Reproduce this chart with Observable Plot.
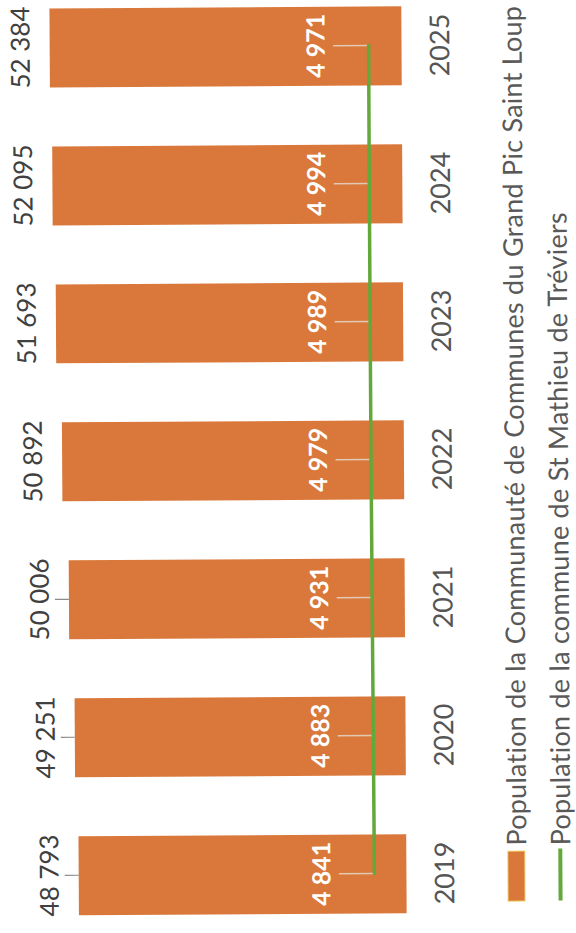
<!DOCTYPE html>
<html><head><meta charset="utf-8">
<script src="https://cdn.jsdelivr.net/npm/d3@7"></script>
<script src="https://cdn.jsdelivr.net/npm/@observablehq/plot@0.6"></script>
<style>
html,body{margin:0;padding:0;background:#fff;overflow:hidden;width:576px;height:933px}
#wrap{position:absolute;left:0;top:0;width:576px;height:933px;transform-origin:288px 466px;transform:rotate(-0.34deg)}
#rot{position:absolute;left:0;top:933px;width:933px;height:576px;transform-origin:0 0;transform:rotate(-90deg);font-family:Lato,"Open Sans",sans-serif;background:#fff}
#chart{position:absolute;left:0;top:0}
.leg{position:absolute;left:31px;height:27px;line-height:27px;display:flex;align-items:center;color:#595959;font-size:27px;letter-spacing:0.25px;white-space:nowrap}
.sw{width:49px;height:16px;background:#D9783A;box-shadow:0 0 0 1px #f3d36a;margin-right:6px}
.ln{width:52px;height:4px;background:#62A83B;margin-right:3px}
</style></head><body><div id="wrap"><div id="rot"><div id="chart"></div><div id="legend"></div></div></div>
<script>
const years = ["2019","2020","2021","2022","2023","2024","2025"];
const ccValues = [48793,49251,50006,50892,51693,52095,52384];
const communeValues = [4841,4883,4931,4979,4989,4994,4971];
const leaderYears = ["2019","2020","2021"];
const labelCC = "Population de la Communauté de Communes du Grand Pic Saint Loup";
const labelCommune = "Population de la commune de St Mathieu de Tréviers";

const fmt = v => d3.format(",")(v).replace(/,/g, " ");
const rows = years.map((y, i) => ({year: y, cc: ccValues[i], commune: communeValues[i]}));

const chart = Plot.plot({
  width: 933, height: 460,
  marginLeft: 16, marginRight: 5, marginTop: 1, marginBottom: 56,
  x: {domain: years, paddingInner: 0.43, paddingOuter: 0, label: null},
  y: {domain: [0, 60000], axis: null},
  style: {fontFamily: "Lato, 'Open Sans', sans-serif", background: "white"},
  marks: [
    Plot.barY(rows, {x: "year", y: "cc", fill: "#D9783A"}),
    Plot.ruleX(rows.filter(d => leaderYears.includes(d.year)), {x: "year", y1: "cc", y2: "cc", insetTop: -14, insetBottom: 0, stroke: "#8c8c8c", strokeWidth: 1.2}),
    Plot.text(rows, {x: "year", y: "cc", text: d => fmt(d.cc), dy: -29, fontSize: 26, fill: "#404040"}),
    Plot.ruleX(rows, {x: "year", y1: "commune", y2: "commune", insetTop: -35, insetBottom: 0, stroke: "#e2c9b3", strokeWidth: 1.5}),
    Plot.lineY(rows, {x: "year", y: "commune", stroke: "#62A83B", strokeWidth: 3.5}),
    Plot.text(rows, {x: "year", y: "commune", text: d => fmt(d.commune), dy: -52, fontSize: 25, fontWeight: "bold", fill: "white"}),
    Plot.axisX({tickSize: 0, tickPadding: 28, fontSize: 27, fill: "#555555", label: null})
  ]
});
document.getElementById("chart").appendChild(chart);

const legend = document.getElementById("legend");
legend.innerHTML =
  `<div class="leg" style="top:500px"><div class="sw"></div><span>${labelCC}</span></div>` +
  `<div class="leg" style="top:544px"><div class="ln"></div><span>${labelCommune}</span></div>`;
</script>
</body></html>
